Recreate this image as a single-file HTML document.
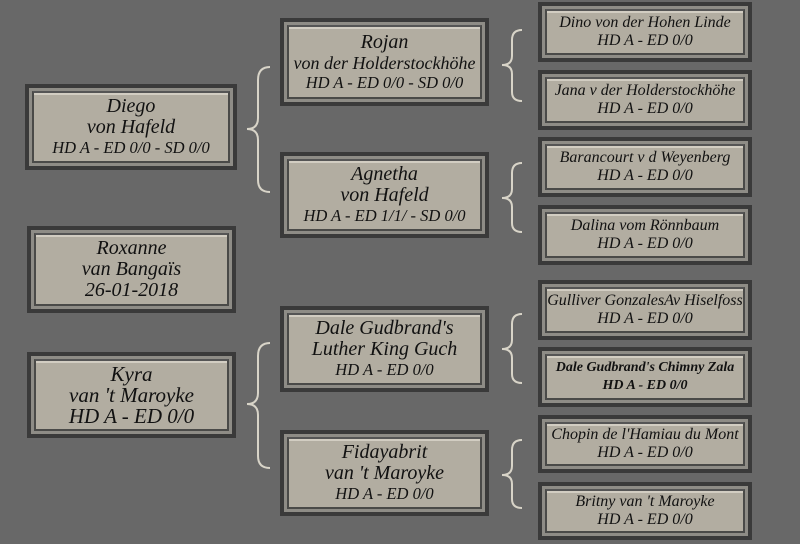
<!DOCTYPE html>
<html><head><meta charset="utf-8"><style>
body{margin:0;width:800px;height:544px;background:#686868;overflow:hidden;position:relative;font-family:"Liberation Serif",serif;font-style:italic;color:#111}
.o{position:absolute;background:#3a3a3a;padding:4px;box-sizing:border-box}
.m{background:#8e8c86;padding:3px;height:100%;box-sizing:border-box}
.i{background:#b2ada1;border:2px solid #4a4a48;border-top-color:#555;height:100%;box-sizing:border-box;box-shadow:inset 0 2px 0 #d2cdc2;display:flex;flex-direction:column;justify-content:center;align-items:center;text-align:center;white-space:nowrap}
.big{font-size:20px;line-height:21px}
.big .s{font-size:16.5px;line-height:20px}
.sm{font-size:16px;line-height:18px}
svg{position:absolute;left:0;top:0}
</style></head><body>
<svg width="800" height="544" fill="none" stroke="#d8d4c8" stroke-width="2">
<path d="M270 67 Q258 67 258 80 L258 118 Q258 129 247 129 Q258 129 258 140 L258 180 Q258 192 270 192"/>
<path d="M270 343 Q258 343 258 356 L258 393 Q258 404 247 404 Q258 404 258 415 L258 456 Q258 468 270 468"/>
<path d="M522 30 Q512 30 512 40 L512 56 Q512 65 502 65 Q512 65 512 74 L512 92 Q512 101 522 101"/>
<path d="M522 163 Q512 163 512 173 L512 189 Q512 198 502 198 Q512 198 512 207 L512 223 Q512 232 522 232"/>
<path d="M522 314 Q512 314 512 324 L512 340 Q512 349 502 349 Q512 349 512 358 L512 374 Q512 383 522 383"/>
<path d="M522 440 Q512 440 512 450 L512 466 Q512 475 502 475 Q512 475 512 484 L512 499 Q512 508 522 508"/>
</svg>

<div class="o" style="left:25px;top:84px;width:212px;height:86px"><div class="m"><div class="i big"><div>Diego</div><div>von Hafeld</div><div class="s">HD A - ED 0/0 - SD 0/0</div></div></div></div>
<div class="o" style="left:27px;top:226px;width:209px;height:87px"><div class="m"><div class="i big"><div>Roxanne</div><div>van Bangaïs</div><div>26-01-2018</div></div></div></div>
<div class="o" style="left:27px;top:352px;width:209px;height:86px"><div class="m"><div class="i big" style="font-size:21px"><div>Kyra</div><div>van 't Maroyke</div><div>HD A - ED 0/0</div></div></div></div>

<div class="o" style="left:280px;top:18px;width:209px;height:88px"><div class="m"><div class="i big"><div>Rojan</div><div class="s" style="font-size:18px">von der Holderstockhöhe</div><div class="s">HD A - ED 0/0 - SD 0/0</div></div></div></div>
<div class="o" style="left:280px;top:152px;width:209px;height:86px"><div class="m"><div class="i big"><div>Agnetha</div><div>von Hafeld</div><div class="s">HD A - ED 1/1/ - SD 0/0</div></div></div></div>
<div class="o" style="left:280px;top:306px;width:209px;height:86px"><div class="m"><div class="i big"><div>Dale Gudbrand's</div><div>Luther King Guch</div><div class="s">HD A - ED 0/0</div></div></div></div>
<div class="o" style="left:280px;top:430px;width:209px;height:86px"><div class="m"><div class="i big"><div>Fidayabrit</div><div>van 't Maroyke</div><div class="s">HD A - ED 0/0</div></div></div></div>

<div class="o" style="left:538px;top:2px;width:214px;height:60px"><div class="m"><div class="i sm"><div>Dino von der Hohen Linde</div><div>HD A - ED 0/0</div></div></div></div>
<div class="o" style="left:538px;top:70px;width:214px;height:60px"><div class="m"><div class="i sm"><div>Jana v der Holderstockhöhe</div><div>HD A - ED 0/0</div></div></div></div>
<div class="o" style="left:538px;top:137px;width:214px;height:60px"><div class="m"><div class="i sm"><div>Barancourt v d Weyenberg</div><div>HD A - ED 0/0</div></div></div></div>
<div class="o" style="left:538px;top:205px;width:214px;height:60px"><div class="m"><div class="i sm"><div>Dalina vom Rönnbaum</div><div>HD A - ED 0/0</div></div></div></div>
<div class="o" style="left:538px;top:280px;width:214px;height:60px"><div class="m"><div class="i sm"><div>Gulliver GonzalesAv Hiselfoss</div><div>HD A - ED 0/0</div></div></div></div>
<div class="o" style="left:538px;top:347px;width:214px;height:60px"><div class="m"><div class="i sm" style="font-size:14px;font-weight:bold"><div>Dale Gudbrand's Chimny Zala</div><div>HD A - ED 0/0</div></div></div></div>
<div class="o" style="left:538px;top:415px;width:214px;height:58px"><div class="m"><div class="i sm"><div>Chopin de l'Hamiau du Mont</div><div>HD A - ED 0/0</div></div></div></div>
<div class="o" style="left:538px;top:482px;width:214px;height:58px"><div class="m"><div class="i sm"><div>Britny van 't Maroyke</div><div>HD A - ED 0/0</div></div></div></div>
</body></html>
